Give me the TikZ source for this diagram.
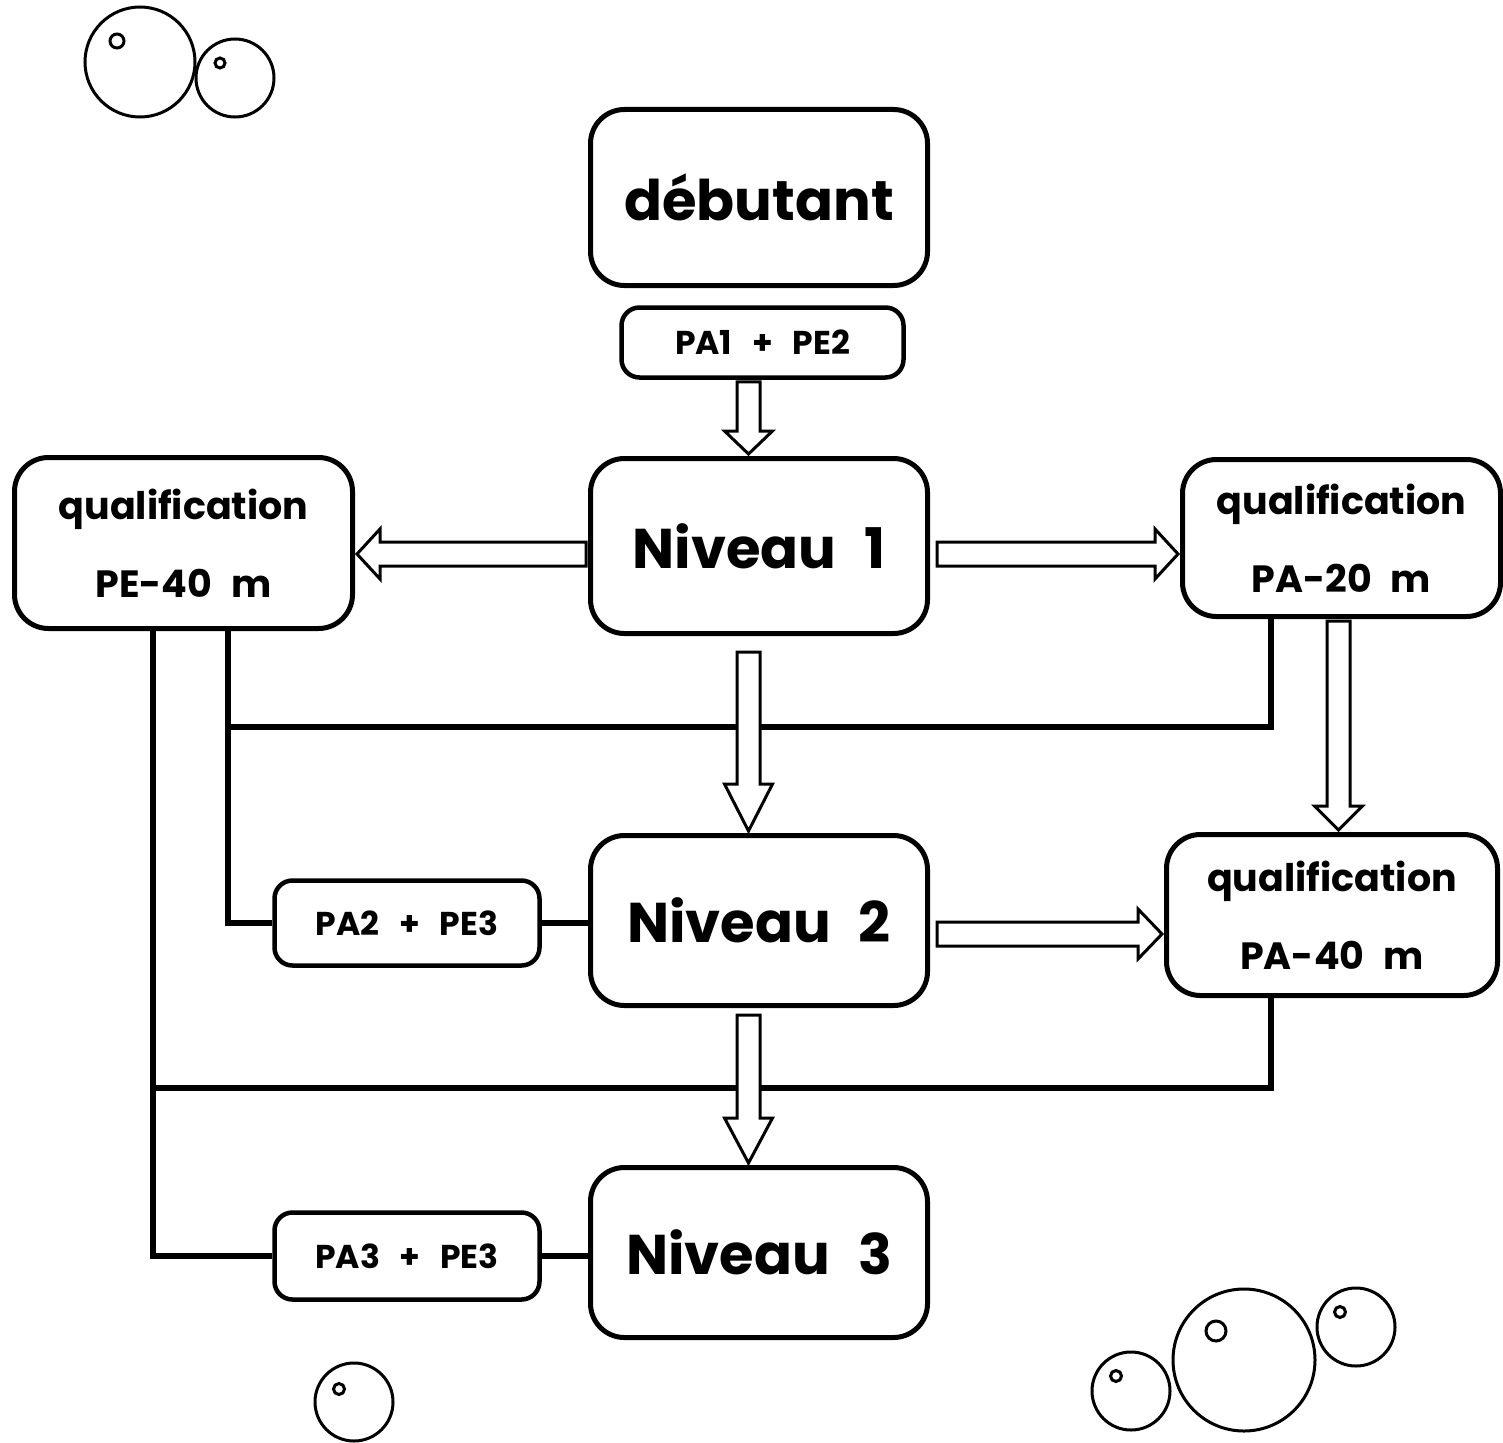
\documentclass[tikz,border=0pt]{standalone}
\usepackage{fontspec}
\setmainfont{Poppins}
\usetikzlibrary{calc}
\tikzset{
  box/.style={draw, line width=5pt, rounded corners=34pt, fill=white, align=center, inner sep=0pt, font=\bfseries},
  sbox/.style={draw, line width=4.5pt, rounded corners=18pt, fill=white, align=center, inner sep=0pt, font=\bfseries},
  blk/.style={draw, line width=3pt, fill=white, line join=miter},
  link/.style={draw, line width=6pt},
  bub/.style={draw, line width=3pt},
  big/.style={font=\bfseries\fontsize{56}{56}\selectfont},
  mid/.style={font=\bfseries\fontsize{38}{78}\selectfont},
  small/.style={font=\bfseries\fontsize{33}{33}\selectfont},
}
\newcommand\wsp{\hspace{0.5em}}
\newcommand\wssp{\hspace{0.6em}}
\newcommand\downarr[3]{\draw[blk] let \p1=(#1), \p2=(#2) in
  (\x1-11.5pt,\y1) -- (\x1-11.5pt,\y2+#3pt) -- (\x1-24pt,\y2+#3pt) -- (\x1,\y2) --
  (\x1+24pt,\y2+#3pt) -- (\x1+11.5pt,\y2+#3pt) -- (\x1+11.5pt,\y1) -- cycle;}
\newcommand\rightarr[3]{\draw[blk] let \p1=(#1), \p2=(#2) in
  (\x1,\y1+12pt) -- (\x2-#3pt,\y1+12pt) -- (\x2-#3pt,\y1+25pt) -- (\x2,\y1) --
  (\x2-#3pt,\y1-25pt) -- (\x2-#3pt,\y1-12pt) -- (\x1,\y1-12pt) -- cycle;}
\newcommand\leftarr[3]{\draw[blk] let \p1=(#1), \p2=(#2) in
  (\x1,\y1+12pt) -- (\x2+#3pt,\y1+12pt) -- (\x2+#3pt,\y1+25pt) -- (\x2,\y1) --
  (\x2+#3pt,\y1-25pt) -- (\x2+#3pt,\y1-12pt) -- (\x1,\y1-12pt) -- cycle;}
\begin{document}
\begin{tikzpicture}[x=1pt,y=1pt]
\useasboundingbox (0,0) rectangle (1503,-1442);
% bubbles
\draw[bub] (140,-62) circle (55);
\draw[bub] (117,-41) circle (7);
\draw[bub] (235,-78) circle (39);
\draw[bub] (220,-63) circle (5);
\draw[bub] (354,-1402) circle (39);
\draw[bub] (339,-1389) circle (5.5);
\draw[bub] (1131,-1391) circle (39);
\draw[bub] (1116,-1376) circle (5.5);
\draw[bub] (1244,-1360) circle (71);
\draw[bub] (1216,-1331) circle (10);
\draw[bub] (1356,-1327) circle (39);
\draw[bub] (1340,-1312) circle (5.5);
% nodes
\node[box, minimum width=337, minimum height=176, big] (deb) at (759,-197.5) {débutant};
\node[sbox, minimum width=282, minimum height=70, small] (pa1) at (762.5,-342.5) {PA1\wssp+\wssp PE2};
\node[box, minimum width=337, minimum height=175, big] (n1) at (759,-546) {Niveau\wsp 1};
\node[box, minimum width=338, minimum height=171, mid] (pe40) at (183.5,-543) {qualification\\PE-40\wsp m};
\node[box, minimum width=318, minimum height=157, mid] (pa20) at (1341.5,-538) {qualification\\PA-20\wsp m};
\node[box, minimum width=337, minimum height=170, big] (n2) at (759,-920.5) {Niveau\wsp 2};
\node[box, minimum width=331, minimum height=161, mid] (pa40) at (1332,-915) {qualification\\PA-40\wsp m};
\node[sbox, minimum width=265, minimum height=85, small] (pa2) at (407,-923) {PA2\wssp+\wssp PE3};
\node[box, minimum width=337, minimum height=170, big] (n3) at (759,-1252.5) {Niveau\wsp 3};
\node[sbox, minimum width=265, minimum height=87, small] (pa3) at (407,-1256) {PA3\wssp+\wssp PE3};
% junction coordinates
\coordinate (j1) at (228,-727);
\coordinate (j2) at (153,-1088);
% thick links
\draw[link] ([xshift=44.5pt]pe40.south) |- (pa2.west);
\draw[link] ([xshift=-30.5pt]pe40.south) |- (pa3.west);
\draw[link] ([xshift=-70.5pt]pa20.south) |- (j1);
\draw[link] ([xshift=-61pt]pa40.south) |- (j2);
\draw[link] (pa2.east) -- (n2.west |- pa2.east);
\draw[link] (pa3.east) -- (n3.west |- pa3.east);
% block arrows
\downarr{$(pa1.south)+(-14,-2)$}{$(n1.north)+(-10.5,2)$}{23}
\downarr{$(n1.south)+(-10.5,-16)$}{$(n2.north)+(-10.5,2)$}{47}
\downarr{$(n2.south)+(-10.5,-7)$}{$(n3.north)+(-10.5,2)$}{45}
\downarr{$(pa20.south)+(-3,-2)$}{$(pa40.north)+(6.5,2)$}{24}
\leftarr{$(n1.west)+(-2,-8)$}{$(pe40.east)+(2,-11)$}{23}
\rightarr{$(n1.east)+(7,-8)$}{$(pa20.west)+(-2,-16)$}{23}
\rightarr{$(n2.east)+(7,-13.5)$}{$(pa40.west)+(-2,-19)$}{24}
\end{tikzpicture}
\end{document}
